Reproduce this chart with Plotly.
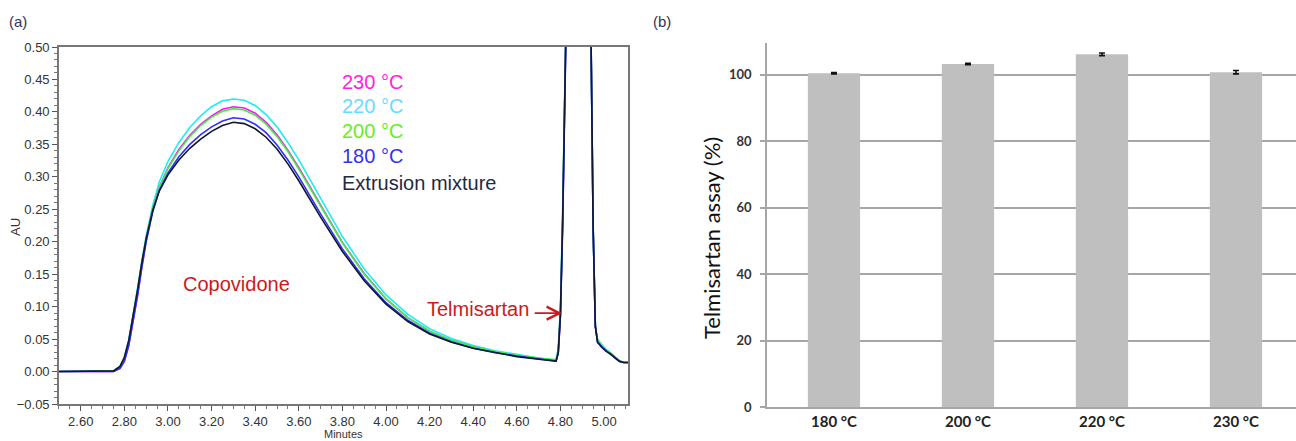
import plotly.graph_objects as go

# ---------------- Data: panel (a) chromatograms ----------------
minutes = [2.50, 2.60, 2.70, 2.75, 2.78, 2.80, 2.82, 2.84, 2.86, 2.88, 2.90, 2.93, 2.96,
           3.00, 3.05, 3.10, 3.15, 3.20, 3.25, 3.30, 3.35, 3.40, 3.45, 3.50, 3.55, 3.60,
           3.70, 3.80, 3.90, 4.00, 4.10, 4.20, 4.30, 4.40, 4.50, 4.60, 4.70, 4.76, 4.78,
           4.79, 4.80, 4.81, 4.82, 4.83, 4.87, 4.91, 4.93, 4.94, 4.95, 4.96, 4.97, 4.99,
           5.01, 5.03, 5.05, 5.07, 5.09, 5.11]

au_mixture = [0.000, 0.000, 0.000, 0.001, 0.008, 0.022, 0.048, 0.085, 0.125, 0.168, 0.205, 0.248, 0.278,
              0.303, 0.326, 0.344, 0.358, 0.370, 0.379, 0.384, 0.382, 0.374, 0.361, 0.343, 0.320, 0.294,
              0.238, 0.185, 0.140, 0.104, 0.077, 0.058, 0.045, 0.036, 0.029, 0.023, 0.019, 0.016, 0.016,
              0.030, 0.090, 0.230, 0.420, 0.620, 1.400, 1.200, 0.750, 0.520, 0.220, 0.070, 0.045, 0.037,
              0.031, 0.027, 0.021, 0.016, 0.014, 0.014]

au_180 = [0.000, 0.000, 0.000, 0.000, 0.005, 0.016, 0.040, 0.076, 0.116, 0.160, 0.200, 0.246, 0.279,
          0.306, 0.331, 0.350, 0.365, 0.377, 0.386, 0.391, 0.389, 0.381, 0.368, 0.349, 0.326, 0.300,
          0.243, 0.189, 0.143, 0.106, 0.079, 0.059, 0.046, 0.036, 0.029, 0.024, 0.019, 0.016, 0.016,
          0.028, 0.085, 0.220, 0.410, 0.610, 1.400, 1.200, 0.750, 0.520, 0.220, 0.070, 0.046, 0.038,
          0.032, 0.027, 0.021, 0.016, 0.014, 0.014]

au_200 = [0.000, 0.000, 0.000, 0.001, 0.008, 0.021, 0.047, 0.084, 0.125, 0.168, 0.206, 0.250, 0.283,
          0.313, 0.340, 0.362, 0.379, 0.392, 0.401, 0.405, 0.403, 0.395, 0.381, 0.362, 0.339, 0.312,
          0.254, 0.198, 0.150, 0.112, 0.083, 0.062, 0.048, 0.038, 0.031, 0.025, 0.021, 0.018, 0.018,
          0.034, 0.095, 0.240, 0.430, 0.630, 1.400, 1.200, 0.750, 0.520, 0.220, 0.070, 0.048, 0.040,
          0.033, 0.028, 0.022, 0.017, 0.014, 0.014]

au_220 = [0.000, 0.000, 0.000, 0.001, 0.008, 0.022, 0.048, 0.086, 0.127, 0.170, 0.209, 0.256, 0.292,
          0.324, 0.353, 0.376, 0.394, 0.408, 0.417, 0.420, 0.418, 0.410, 0.396, 0.377, 0.353, 0.326,
          0.266, 0.208, 0.158, 0.118, 0.088, 0.066, 0.051, 0.040, 0.032, 0.026, 0.021, 0.018, 0.019,
          0.035, 0.097, 0.245, 0.440, 0.640, 1.400, 1.200, 0.750, 0.520, 0.220, 0.070, 0.050, 0.041,
          0.034, 0.029, 0.023, 0.017, 0.014, 0.014]

au_230 = [0.000, 0.000, 0.000, 0.000, 0.005, 0.016, 0.040, 0.076, 0.117, 0.161, 0.202, 0.250, 0.284,
          0.314, 0.342, 0.364, 0.381, 0.394, 0.404, 0.408, 0.406, 0.398, 0.384, 0.365, 0.341, 0.314,
          0.256, 0.199, 0.151, 0.112, 0.083, 0.062, 0.048, 0.038, 0.030, 0.024, 0.020, 0.017, 0.017,
          0.030, 0.088, 0.228, 0.420, 0.620, 1.400, 1.200, 0.750, 0.520, 0.220, 0.070, 0.047, 0.039,
          0.032, 0.028, 0.022, 0.016, 0.014, 0.014]

chrom_names = ["220 °C", "230 °C", "200 °C", "180 °C", "Extrusion mixture"]
chrom_series = [au_220, au_230, au_200, au_180, au_mixture]
chrom_line_colors = ["#18f0f0", "#ff10ff", "#40f040", "#3030ff", "#101830"]

legend_labels = ["230 °C", "220 °C", "200 °C", "180 °C", "Extrusion mixture"]
legend_colors = ["#ff22e0", "#66ddff", "#66ee22", "#3333ee", "#1f2a44"]

# ---------------- Data: panel (b) assay ----------------
temps = ["180 °C", "200 °C", "220 °C", "230 °C"]
assay = [100.5, 103.3, 106.2, 100.8]
assay_err = [0.2, 0.2, 0.4, 0.5]

fig = go.Figure()

for name, ys, col in zip(chrom_names, chrom_series, chrom_line_colors):
    fig.add_trace(go.Scatter(x=minutes, y=ys, mode="lines", name=name,
                             line=dict(color=col, width=1.6),
                             xaxis="x", yaxis="y", showlegend=False))

fig.add_trace(go.Bar(x=temps, y=assay, marker=dict(color="#bfbfbf", line=dict(width=0)),
                     width=0.39,
                     error_y=dict(type="data", array=assay_err, visible=True,
                                  color="#111111", thickness=1.6, width=3),
                     xaxis="x2", yaxis="y2", showlegend=False))

axfont = dict(family="Liberation Sans, Arial", size=13, color="#333333")
W, H = 1296, 441

fig.update_layout(
    width=W, height=H,
    margin=dict(l=0, r=0, t=0, b=0),
    paper_bgcolor="white", plot_bgcolor="white",
    xaxis=dict(domain=[0.0455, 0.4846], range=[2.5, 5.11], anchor="y",
               tick0=2.6, dtick=0.2, tickformat=".2f",
               ticks="outside", ticklen=5, tickcolor="#555555", tickwidth=1,
               minor=dict(dtick=0.05, ticks="outside", ticklen=3, tickcolor="#777777"),
               showline=True, linecolor="#777777", linewidth=1.5, mirror=True,
               showgrid=False, zeroline=False, tickfont=axfont, automargin=False,
               ticklabelstandoff=0),
    yaxis=dict(domain=[0.0839, 0.8934], range=[-0.05, 0.5], anchor="x",
               tick0=0, dtick=0.05, tickformat=".2f",
               ticks="outside", ticklen=5, tickcolor="#555555", tickwidth=1,
               minor=dict(dtick=0.01, ticks="outside", ticklen=3, tickcolor="#777777"),
               showline=True, linecolor="#777777", linewidth=1.5, mirror=True,
               showgrid=False, zeroline=False, tickfont=axfont, automargin=False,
               ticklabelstandoff=0),
    xaxis2=dict(domain=[0.5918, 1.0], range=[-0.5, 3.448], anchor="y2",
                showline=True, linecolor="#a6a6a6", linewidth=1.5, ticks="",
                showgrid=False, zeroline=False, automargin=False,
                tickfont=dict(family="Lato, Open Sans, Arial", size=15, color="#222222", weight="bold")),
    yaxis2=dict(domain=[0.0771, 0.9025], range=[0, 109.6], anchor="x2",
                tick0=0, dtick=20, ticks="outside", ticklen=5, tickcolor="#a6a6a6", tickwidth=1.5,
                showline=True, linecolor="#a6a6a6", linewidth=1.5, automargin=False,
                showgrid=True, gridcolor="#a6a6a6", gridwidth=1.5, zeroline=False,
                ticklabelstandoff=6,
                tickfont=dict(family="Lato, Open Sans, Arial", size=13, color="#333333", weight="bold")),
    bargap=0.61,
)

annotations = []
# panel labels
annotations.append(dict(text="(a)", x=18 / W, y=1 - 22 / H, xref="paper", yref="paper",
                        showarrow=False, font=dict(family="Liberation Sans, Arial", size=15, color="#333355"),
                        xanchor="center", yanchor="middle"))
annotations.append(dict(text="(b)", x=662 / W, y=1 - 22 / H, xref="paper", yref="paper",
                        showarrow=False, font=dict(family="Liberation Sans, Arial", size=15, color="#333355"),
                        xanchor="center", yanchor="middle"))
# axis titles
annotations.append(dict(text="AU", x=15 / W, y=1 - 227 / H, xref="paper", yref="paper", textangle=-90,
                        showarrow=False, font=dict(family="Liberation Sans, Arial", size=13, color="#333333"),
                        xanchor="center", yanchor="middle"))
annotations.append(dict(text="Minutes", x=343 / W, y=0, xref="paper", yref="paper",
                        showarrow=False, font=dict(family="Liberation Sans Narrow, Liberation Sans, Arial",
                                                   size=11, color="#333333"),
                        xanchor="center", yanchor="bottom", borderpad=0))
annotations.append(dict(text="Telmisartan assay (%)", x=711 / W, y=1 - 238 / H, xref="paper", yref="paper",
                        textangle=-90, showarrow=False,
                        font=dict(family="Lato, Open Sans, Arial", size=22, color="#111111"),
                        xanchor="center", yanchor="middle"))
# in-plot legend text
leg_y = [0.446, 0.409, 0.371, 0.332, 0.291]
for lab, col, yy in zip(legend_labels, legend_colors, leg_y):
    annotations.append(dict(text=lab, x=3.79, y=yy, xref="x", yref="y", showarrow=False,
                            xanchor="left", yanchor="middle",
                            font=dict(family="Liberation Sans, Arial", size=20, color=col)))
annotations.append(dict(text="Copovidone", x=3.316, y=0.135, xref="x", yref="y", showarrow=False,
                        xanchor="center", yanchor="middle",
                        font=dict(family="Liberation Sans, Arial", size=20, color="#cc1a1a")))
annotations.append(dict(text="Telmisartan", x=4.664, y=0.097, xref="x", yref="y", showarrow=False,
                        xanchor="right", yanchor="middle",
                        font=dict(family="Liberation Sans, Arial", size=20, color="#cc1a1a")))
annotations.append(dict(text="", x=4.808, y=0.090, ax=4.675, ay=0.090, xref="x", yref="y",
                        axref="x", ayref="y", showarrow=True, arrowhead=5, arrowsize=1.4,
                        arrowwidth=1.8, arrowcolor="#cc1a1a"))
fig.update_layout(annotations=annotations)

fig.write_html("out.html", config={"displayModeBar": False},
               post_script="document.body.style.margin='0';document.body.style.overflow='hidden';")
